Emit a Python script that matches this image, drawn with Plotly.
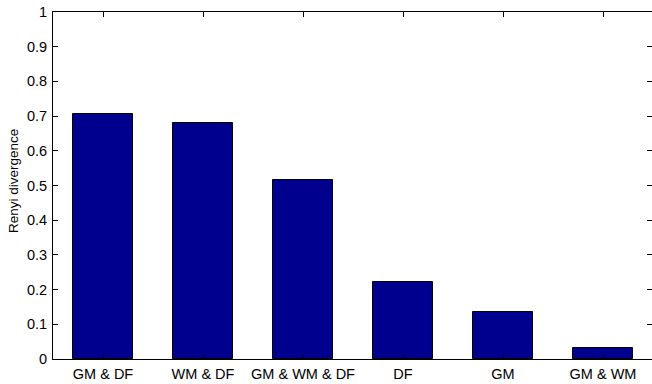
import plotly.graph_objects as go

# Divergence per feature combination
categories = ["GM & DF", "WM & DF", "GM & WM & DF", "DF", "GM", "GM & WM"]
divergence = [0.707, 0.679, 0.516, 0.222, 0.136, 0.032]
y_ticks = [0, 0.1, 0.2, 0.3, 0.4, 0.5, 0.6, 0.7, 0.8, 0.9, 1]
y_tick_text = ["0", "0.1", "0.2", "0.3", "0.4", "0.5", "0.6", "0.7", "0.8", "0.9", "1"]

positions = list(range(1, len(categories) + 1))
font_family = "Liberation Sans, Arial, Helvetica, sans-serif"

fig = go.Figure()
fig.add_trace(go.Bar(
    x=positions,
    y=divergence,
    width=0.6,
    marker=dict(color="#00008F", line=dict(color="black", width=1)),
    showlegend=False,
    hoverinfo="skip",
))
# invisible trace that carries the right-hand tick axis
fig.add_trace(go.Scatter(
    x=[positions[0]], y=[0], yaxis="y2", mode="markers",
    marker=dict(opacity=0), showlegend=False, hoverinfo="skip",
))

axis_font = dict(family=font_family, size=14.5, color="black")

fig.update_layout(
    width=652,
    height=384,
    margin=dict(l=53, r=0, t=12, b=25),
    paper_bgcolor="white",
    plot_bgcolor="white",
    bargap=0,
    xaxis=dict(
        range=[0.5, 6.49],
        tickmode="array",
        tickvals=positions,
        ticktext=categories,
        ticks="inside",
        ticklen=5,
        tickwidth=1,
        tickcolor="black",
        showline=True,
        linecolor="black",
        linewidth=1,
        mirror="ticks",
        showgrid=False,
        zeroline=False,
        tickfont=axis_font,
        ticklabelstandoff=2,
    ),
    yaxis=dict(
        range=[0, 1],
        tickmode="array",
        tickvals=y_ticks,
        ticktext=y_tick_text,
        ticks="inside",
        ticklen=5,
        tickwidth=1,
        tickcolor="black",
        showline=True,
        linecolor="black",
        linewidth=1,
        showgrid=False,
        zeroline=False,
        tickfont=axis_font,
        ticklabelstandoff=2,
    ),
    yaxis2=dict(
        range=[0, 1],
        overlaying="y",
        side="right",
        tickmode="array",
        tickvals=y_ticks,
        ticks="inside",
        ticklen=5,
        tickwidth=1,
        tickcolor="black",
        showticklabels=False,
        showline=False,
        showgrid=False,
        zeroline=False,
    ),
    annotations=[dict(
        text="Renyi divergence",
        xref="paper", yref="paper",
        x=0, y=0.513,
        xshift=-39,
        xanchor="center", yanchor="middle",
        textangle=-90,
        showarrow=False,
        font=dict(family=font_family, size=13.5, color="black"),
    )],
)

fig.write_html("out.html")
